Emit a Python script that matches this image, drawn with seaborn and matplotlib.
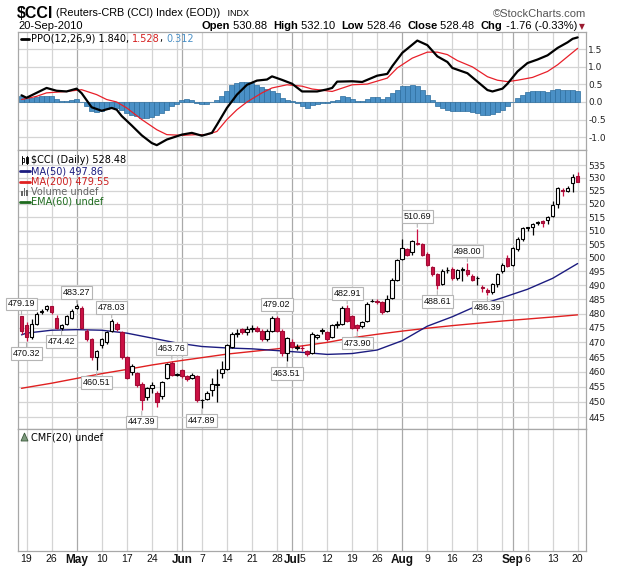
import numpy as np
import pandas as pd
import matplotlib
matplotlib.use('Agg')
import matplotlib.pyplot as plt
from matplotlib.lines import Line2D
from matplotlib.patches import Rectangle, Polygon
import seaborn as sns

# ---------------- data ----------------
# trading days 16-Apr-2010 .. 20-Sep-2010, day number 0 = 19-Apr
opens = [479.0, 476.0, 472.0, 476.5, 480.5, 481.5, 482.5, 478.5, 475.0, 476.5,
         478.5, 482.0, 482.0, 474.0, 471.0, 465.0, 469.0, 470.0, 474.0, 476.5,
         473.5, 465.0, 460.0, 459.5, 456.0, 451.5, 454.5, 453.0, 452.0, 458.0,
         463.0, 459.0, 460.5, 458.5, 458.0, 458.5, 450.5, 451.0, 454.0, 455.5,
         459.5, 461.0, 468.5, 473.0, 474.5, 473.5, 474.5, 475.0, 474.0, 471.0,
         474.0, 478.5, 474.0, 466.5, 470.0, 468.0, 468.2, 467.0, 466.5, 472.0,
         474.0, 473.5, 472.0, 476.0, 476.5, 482.0, 479.0, 476.0, 475.5, 477.5,
         484.5, 484.5, 484.0, 481.0, 485.5, 492.0, 499.5, 503.0, 502.0, 505.5,
         505.0, 501.5, 496.5, 494.0, 490.5, 495.5, 496.0, 492.5, 495.5, 495.5,
         493.5, 492.5, 489.5, 488.5, 487.5, 490.5, 495.0, 500.0, 497.5, 503.0,
         507.0, 511.0, 511.5, 513.0, 513.5, 514.0, 515.5, 520.0, 525.5, 525.0,
         528.0, 530.88]
highs = [479.19, 477.0, 478.0, 480.5, 481.5, 483.0, 482.8, 479.5, 476.5, 479.5,
         481.5, 483.27, 482.5, 474.5, 471.5, 467.5, 471.5, 474.0, 478.03, 477.0,
         474.0, 465.5, 462.5, 460.0, 456.5, 455.0, 456.5, 453.5, 457.0, 463.0,
         463.76, 459.5, 461.0, 459.0, 459.5, 459.0, 451.0, 453.5, 458.0, 461.0,
         463.5, 469.5, 473.5, 474.5, 475.0, 475.5, 476.0, 475.5, 474.5, 474.5,
         479.0, 479.02, 474.5, 472.0, 471.0, 469.5, 469.0, 467.5, 473.5, 473.0,
         475.0, 474.0, 476.5, 477.5, 482.5, 482.91, 479.5, 476.5, 477.5, 484.0,
         485.0, 485.0, 484.5, 486.5, 492.5, 499.5, 507.0, 503.5, 506.5, 510.69,
         505.5, 502.0, 497.0, 494.5, 496.0, 496.5, 496.5, 496.0, 496.5, 498.0,
         494.0, 493.5, 490.0, 489.0, 491.0, 494.5, 498.0, 501.0, 504.0, 507.5,
         511.5, 511.5, 513.0, 513.5, 514.0, 515.5, 521.0, 526.5, 526.0, 527.0,
         531.5, 532.10]
lows = [473.0, 470.32, 471.0, 476.0, 480.0, 481.0, 480.0, 474.5, 474.42, 476.0,
        478.0, 481.5, 474.5, 470.5, 464.0, 460.51, 468.0, 469.5, 473.5, 474.0,
        464.5, 457.5, 459.0, 455.0, 447.39, 450.5, 453.0, 448.5, 451.0, 457.5,
        458.5, 458.5, 458.0, 457.0, 457.5, 450.0, 447.89, 450.5, 452.0, 450.0,
        458.0, 460.5, 468.0, 472.0, 473.0, 472.5, 473.5, 473.5, 470.5, 470.5,
        473.5, 473.5, 465.5, 463.51, 468.0, 467.5, 467.0, 465.5, 466.0, 471.0,
        473.0, 470.5, 471.5, 475.0, 476.0, 477.0, 474.5, 473.90, 475.0, 477.0,
        484.0, 483.5, 480.0, 480.5, 485.0, 491.5, 499.0, 500.5, 501.0, 504.5,
        500.5, 497.0, 493.5, 488.61, 490.0, 494.5, 492.0, 492.0, 491.5, 493.5,
        491.5, 490.0, 487.5, 486.39, 487.0, 489.5, 494.5, 496.5, 497.0, 502.5,
        506.0, 510.0, 508.5, 512.0, 511.5, 512.5, 515.0, 518.5, 523.0, 524.5,
        524.5, 528.46]
closes = [474.0, 472.0, 476.5, 480.0, 481.0, 482.5, 480.5, 475.0, 476.0, 479.0,
          481.0, 482.8, 475.0, 471.0, 465.0, 467.0, 471.0, 473.5, 477.5, 474.5,
          465.0, 458.0, 462.0, 455.5, 450.5, 454.5, 455.5, 450.0, 456.5, 462.5,
          459.0, 459.2, 458.5, 457.5, 459.0, 450.5, 450.8, 453.0, 456.0, 456.0,
          461.0, 469.0, 473.0, 473.2, 473.5, 474.5, 475.0, 474.0, 471.0, 474.0,
          478.5, 474.0, 466.5, 471.5, 468.5, 468.5, 468.0, 466.0, 473.0, 472.5,
          474.2, 471.0, 476.0, 476.5, 482.0, 477.5, 475.0, 475.0, 477.0, 483.5,
          484.6, 484.0, 480.5, 485.0, 492.0, 499.0, 503.5, 501.0, 506.0, 505.0,
          501.0, 497.5, 494.0, 490.0, 495.0, 495.6, 492.5, 495.5, 496.0, 494.0,
          492.0, 492.6, 489.0, 487.5, 490.5, 494.0, 497.5, 497.0, 503.5, 507.0,
          511.0, 511.2, 512.5, 513.2, 512.8, 515.0, 519.5, 526.0, 525.0, 526.0,
          530.24, 528.48]

# moving averages, sampled on 16-Apr and then every Monday
ma_days = [-1, 0, 5, 10, 15, 20, 25, 30, 35, 40, 45, 50, 55, 60, 65, 70, 75,
           80, 85, 90, 95, 100, 105, 110]
ma50 = [472.6, 473.2, 474.2, 474.4, 474.2, 473.2, 471.5, 469.8, 468.6, 468.1,
        467.8, 467.2, 466.6, 465.9, 466.2, 467.4, 470.6, 475.6, 478.9, 482.8,
        485.6, 488.6, 492.5, 497.86]
ma200 = [454.5, 454.8, 456.2, 457.8, 459.4, 460.8, 462.3, 463.6, 464.8, 466.0,
         466.9, 467.8, 468.8, 470.0, 471.6, 472.8, 473.9, 474.9, 475.8, 476.6,
         477.4, 478.1, 478.8, 479.55]

# PPO(12,26,9)
ppo_days = [-1, 0, 2, 4, 6, 8, 10, 11, 13, 15, 17, 18, 19, 21, 23, 25, 26, 28,
            31, 33, 35, 37, 38, 40, 42, 44, 46, 48, 49, 51, 53, 55, 58, 60, 61,
            62, 65, 67, 70, 72, 73, 75, 78, 80, 82, 84, 85, 88, 90, 92, 93, 95,
            96, 98, 100, 102, 104, 106, 108, 109, 110]
ppo = [0.19, 0.12, 0.26, 0.40, 0.32, 0.30, 0.38, 0.25, -0.15, -0.25, -0.17,
       -0.22, -0.40, -0.67, -0.95, -1.17, -1.23, -1.07, -0.93, -0.88, -0.96,
       -0.88, -0.65, -0.17, 0.21, 0.49, 0.61, 0.64, 0.73, 0.63, 0.52, 0.30,
       0.30, 0.36, 0.40, 0.58, 0.59, 0.57, 0.75, 0.80, 1.02, 1.40, 1.75, 1.62,
       1.30, 1.14, 0.97, 0.82, 0.58, 0.34, 0.30, 0.38, 0.52, 0.87, 1.11, 1.21,
       1.33, 1.54, 1.70, 1.80, 1.84]
signal_days = [-1, 2, 4, 8, 11, 14, 16, 18, 20, 23, 26, 28, 31, 34, 36, 38, 40,
               42, 44, 47, 49, 52, 55, 57, 61, 65, 68, 72, 74, 77, 80, 82, 84,
               86, 89, 92, 94, 96, 98, 101, 104, 106, 110]
signal = [0.07, 0.16, 0.26, 0.30, 0.35, 0.21, 0.07, 0.0, -0.17, -0.50, -0.79,
          -0.93, -0.95, -0.93, -0.93, -0.84, -0.50, -0.22, 0.0, 0.26, 0.40,
          0.49, 0.45, 0.37, 0.30, 0.49, 0.51, 0.68, 0.97, 1.25, 1.42, 1.42,
          1.35, 1.18, 1.00, 0.72, 0.62, 0.58, 0.62, 0.70, 0.87, 1.06, 1.528]
hist = [0.16, 0.13, 0.11, 0.14, 0.16, 0.18, 0.16, 0.09, 0.04, 0.02, 0.06, 0.09,
        0.0, -0.12, -0.25, -0.29, -0.25, -0.20, -0.15, -0.17, -0.22, -0.31,
        -0.38, -0.41, -0.46, -0.47, -0.44, -0.38, -0.31, -0.22, -0.12, -0.06,
        0.05, 0.08, 0.06, -0.03, -0.06, -0.05, 0.01, 0.07, 0.16, 0.30, 0.47,
        0.54, 0.57, 0.57, 0.53, 0.47, 0.42, 0.37, 0.32, 0.26, 0.11, 0.07, 0.02,
        -0.03, -0.11, -0.17, -0.10, -0.06, -0.03, -0.03, 0.04, 0.07, 0.16, 0.13,
        0.09, 0.04, 0.04, 0.09, 0.13, 0.13, 0.09, 0.14, 0.26, 0.35, 0.45, 0.45,
        0.47, 0.45, 0.35, 0.21, 0.07, -0.12, -0.17, -0.22, -0.25, -0.27, -0.27,
        -0.27, -0.28, -0.31, -0.36, -0.38, -0.34, -0.28, -0.22, -0.12, 0.01,
        0.11, 0.21, 0.28, 0.30, 0.30, 0.30, 0.28, 0.35, 0.37, 0.35, 0.34, 0.34,
        0.312]

# annotated swing highs / lows
mark_days = [-1, 0, 10, 7, 17, 14, 29, 23, 35, 50, 52, 64, 66, 78, 82, 88, 92]
mark_kind = ['H', 'L', 'H', 'L', 'H', 'L', 'H', 'L', 'L', 'H', 'L', 'H', 'L',
             'H', 'L', 'H', 'L']

# date axis: grid days and their labels ('' = grid line only)
grid_dates = ['2010-04-19', '2010-04-26', '2010-05-03', '2010-05-10', '2010-05-17',
              '2010-05-24', '2010-05-31', '2010-06-01', '2010-06-07', '2010-06-14',
              '2010-06-21', '2010-06-28', '2010-07-01', '2010-07-05', '2010-07-12',
              '2010-07-19', '2010-07-26', '2010-08-02', '2010-08-09', '2010-08-16',
              '2010-08-23', '2010-08-30', '2010-09-01', '2010-09-06', '2010-09-13',
              '2010-09-20']
grid_labels = ['19', '26', 'May', '10', '17', '24', '', 'Jun', '7', '14', '21',
               '28', 'Jul', '5', '12', '19', '26', 'Aug', '9', '16', '23', '',
               'Sep', '6', '13', '20']

price_ticks = list(range(445, 540, 5))
ppo_ticks = [-1.0, -0.5, 0.0, 0.5, 1.0, 1.5]

# ---------------- figure ----------------
sns.set_style('white')
plt.rcParams['font.family'] = ['DejaVu Sans']
ARIAL = ['Liberation Sans', 'DejaVu Sans']

W, H = 624, 570
fig = plt.figure(figsize=(W / 100, H / 100), dpi=100)
fig.patch.set_facecolor('white')


def fx(x):
    return x / W


def fy(y):
    return 1 - y / H


def panel(top, bottom):
    return fig.add_axes([fx(18), fy(bottom), fx(586) - fx(18), fy(top) - fy(bottom)])


ax_ppo = panel(32, 150)
ax = panel(150, 429)
ax_cmf = panel(429, 551)

dates = pd.bdate_range('2010-04-16', '2010-09-20')
xpos = np.arange(len(dates)) - 1
day_of = {d.strftime('%Y-%m-%d'): x for d, x in zip(dates, xpos)}

LIGHT = '#d4d4d4'
DARK = '#a9a9a9'
for a in (ax_ppo, ax, ax_cmf):
    a.set_xlim(-1.70, 111.67)
    for d, lab in zip(grid_dates, grid_labels):
        month = lab.isalpha()
        a.axvline(day_of[d], color=DARK if month else LIGHT, lw=0.9, zorder=0)
    for s in a.spines.values():
        s.set_color('#a8a8a8')
        s.set_linewidth(0.9)
    a.set_xticks([])
    a.set_facecolor('white')

# ---- price panel ----
o = np.array(opens)
c = np.array(closes)
hi = np.array(highs)
lo = np.array(lows)
up = c >= o
RED = '#cc1144'
wick_col = np.where(up, 'black', RED)
ax.vlines(xpos, lo, hi, colors=wick_col, lw=0.9, zorder=3)
body_h = np.maximum(np.abs(c - o), 0.08)
ax.bar(xpos, body_h, bottom=np.minimum(o, c), width=0.72,
       color=np.where(up, 'white', RED), edgecolor=np.where(up, 'black', '#a00c35'),
       linewidth=0.8, zorder=4)

sns.lineplot(x=ma_days, y=ma200, ax=ax, color='#e02020', lw=1.0, zorder=2)
sns.lineplot(x=ma_days, y=ma50, ax=ax, color='#1c1c80', lw=1.0, zorder=2)

ax.set_yscale('log')
ax.set_ylim(441.2, 540.9)
ax.set_yticks(price_ticks)
ax.set_yticks([], minor=True)
ax.set_yticklabels([str(t) for t in price_ticks])
ax.yaxis.tick_right()
ax.tick_params(axis='y', length=0, pad=1.5, labelsize=6.5, labelcolor='#222222')
ax.grid(axis='y', color=LIGHT, lw=0.9)
ax.set_axisbelow(True)
ax.set_xlabel('')
ax.set_ylabel('')

for d, kind in zip(mark_days, mark_kind):
    k = d + 1
    val = hi[k] if kind == 'H' else lo[k]
    off = 12 if kind == 'H' else -12
    ax.annotate(f'{val:.2f}', xy=(d, val), xytext=(0, off), textcoords='offset pixels',
                ha='center', va='center', fontsize=6.5, family=ARIAL, color='#111111',
                bbox=dict(boxstyle='square,pad=0.2', fc='white', ec='#b5b5b5', lw=0.8),
                arrowprops=dict(arrowstyle='-', color='#b5b5b5', lw=0.8,
                                shrinkA=0, shrinkB=1),
                annotation_clip=False, zorder=6)

# ---- PPO panel ----
ax_ppo.bar(xpos, hist, width=1.0, color='#4a90c6', edgecolor='#2c6d9e',
           linewidth=0.5, zorder=2)
sns.lineplot(x=signal_days, y=signal, ax=ax_ppo, color='#e8202a', lw=0.9, zorder=3)
sns.lineplot(x=ppo_days, y=ppo, ax=ax_ppo, color='black', lw=1.6, zorder=4)
ax_ppo.set_ylim(-1.368, 1.994)
ax_ppo.set_yticks(ppo_ticks)
ax_ppo.set_yticklabels([f'{t:.1f}' for t in ppo_ticks])
ax_ppo.yaxis.tick_right()
ax_ppo.tick_params(axis='y', length=0, pad=1.5, labelsize=6.5, labelcolor='#222222')
ax_ppo.grid(axis='y', color=LIGHT, lw=0.9)
ax_ppo.set_axisbelow(True)
ax_ppo.set_xlabel('')
ax_ppo.set_ylabel('')

# ---- CMF panel (empty) ----
ax_cmf.set_yticks([])
lab_days = [day_of[d] for d, l in zip(grid_dates, grid_labels) if l]
labs = [l for l in grid_labels if l]
ax_cmf.set_xticks(lab_days)
ax_cmf.set_xticklabels(labs)
ax_cmf.tick_params(axis='x', length=0, pad=2.5, labelsize=7.5, labelcolor='#111111')
for t in ax_cmf.get_xticklabels():
    t.set_family(ARIAL)
    if t.get_text().isalpha():
        t.set_fontweight('bold')
        t.set_fontsize(8.5)

# ---------------- text furniture ----------------
renderer = fig.canvas.get_renderer()


def text_width(s, **kw):
    t1 = fig.text(0, 0, s + '|', **kw)
    t2 = fig.text(0, 0, '|', **kw)
    w = t1.get_window_extent(renderer).width - t2.get_window_extent(renderer).width
    t1.remove()
    t2.remove()
    return w


def chain(x, y, pieces, family, align='left'):
    # pieces: (text, colour, weight, size)
    widths = [text_width(s, fontsize=sz, family=family, fontweight=wt)
              for s, col, wt, sz in pieces]
    if align == 'right':
        x -= sum(widths)
    for (s, col, wt, sz), w in zip(pieces, widths):
        fig.text(fx(x), fy(y), s, fontsize=sz, family=family, fontweight=wt,
                 color=col, va='center', ha='left')
        x += w


def seg(x1, x2, y, color, lw=2.0):
    fig.add_artist(Line2D([fx(x1), fx(x2)], [fy(y), fy(y)], color=color, lw=lw,
                          transform=fig.transFigure))


# header line 1
chain(17, 13, [('$CCI', 'black', 'bold', 11.5),
               (' (Reuters-CRB (CCI) Index (EOD))', 'black', 'normal', 7.8),
               ('   INDX', 'black', 'normal', 6.5)], ARIAL)
fig.text(fx(586), fy(14), '\u00a9StockCharts.com', fontsize=8, family=ARIAL,
         va='center', ha='right', color='#555555')

# header line 2
fig.text(fx(18), fy(26), '20-Sep-2010', fontsize=8, family=ARIAL, va='center',
         ha='left', color='black')
chain(577, 26, [('Open', 'black', 'bold', 8), (' 530.88  ', 'black', 'normal', 8),
                ('High', 'black', 'bold', 8), (' 532.10  ', 'black', 'normal', 8),
                ('Low', 'black', 'bold', 8), (' 528.46  ', 'black', 'normal', 8),
                ('Close', 'black', 'bold', 8), (' 528.48  ', 'black', 'normal', 8),
                ('Chg', 'black', 'bold', 8), (' -1.76 (-0.33%)', 'black', 'normal', 8)],
      ARIAL, align='right')
fig.text(fx(579), fy(26.5), '\u25bc', fontsize=5.5, family='DejaVu Sans', va='center',
         ha='left', color='#9b1b30')

# PPO legend
seg(21, 29, 38.5, 'black')
chain(31, 38.5, [('PPO(12,26,9) 1.840, ', 'black', 'normal', 7),
                 ('1.528', '#d42020', 'normal', 7),
                 (', ', 'black', 'normal', 7),
                 ('0.312', '#4a90c6', 'normal', 7)], 'DejaVu Sans')

# price legend
fig.add_artist(Line2D([fx(22.5), fx(22.5)], [fy(156), fy(164)], color='black', lw=0.7,
                      transform=fig.transFigure))
fig.add_artist(Rectangle((fx(21.5), fy(162)), fx(2), fy(158) - fy(162), fc='white',
                         ec='black', lw=0.6, transform=fig.transFigure))
fig.add_artist(Line2D([fx(26.5), fx(26.5)], [fy(156), fy(164)], color='black', lw=0.7,
                      transform=fig.transFigure))
fig.add_artist(Rectangle((fx(25.5), fy(163)), fx(2), fy(157) - fy(163), fc='#333333',
                         ec='black', lw=0.6, transform=fig.transFigure))
fig.text(fx(31), fy(160), '$CCI (Daily) 528.48', fontsize=7, va='center', ha='left',
         color='black')
seg(20, 30, 171, '#1c1c80')
fig.text(fx(31), fy(171), 'MA(50) 497.86', fontsize=7, va='center', ha='left',
         color='#1c1c80')
seg(20, 30, 181.5, '#e02020')
fig.text(fx(31), fy(181.5), 'MA(200) 479.55', fontsize=7, va='center', ha='left',
         color='#cc2020')
for bx, bh in zip([21, 23.5, 26], [5, 8, 6]):
    fig.add_artist(Rectangle((fx(bx), fy(196)), fx(1.8), fy(196 - bh) - fy(196),
                             fc='#666666', ec='none', transform=fig.transFigure))
fig.text(fx(31), fy(192), 'Volume undef', fontsize=7, va='center', ha='left',
         color='#666666')
seg(20, 30, 202, '#1e6b1e')
fig.text(fx(31), fy(202), 'EMA(60) undef', fontsize=7, va='center', ha='left',
         color='#1e6b1e')

# CMF legend
fig.add_artist(Polygon([(fx(21), fy(441)), (fx(24.5), fy(433)), (fx(28), fy(441))],
                       closed=True, fc='#7d9a7d', ec='#3c5a3c', lw=0.6,
                       transform=fig.transFigure))
fig.text(fx(31), fy(437.5), 'CMF(20) undef', fontsize=7, va='center', ha='left',
         color='black')

fig.savefig('out.png', dpi=100, facecolor='white')
